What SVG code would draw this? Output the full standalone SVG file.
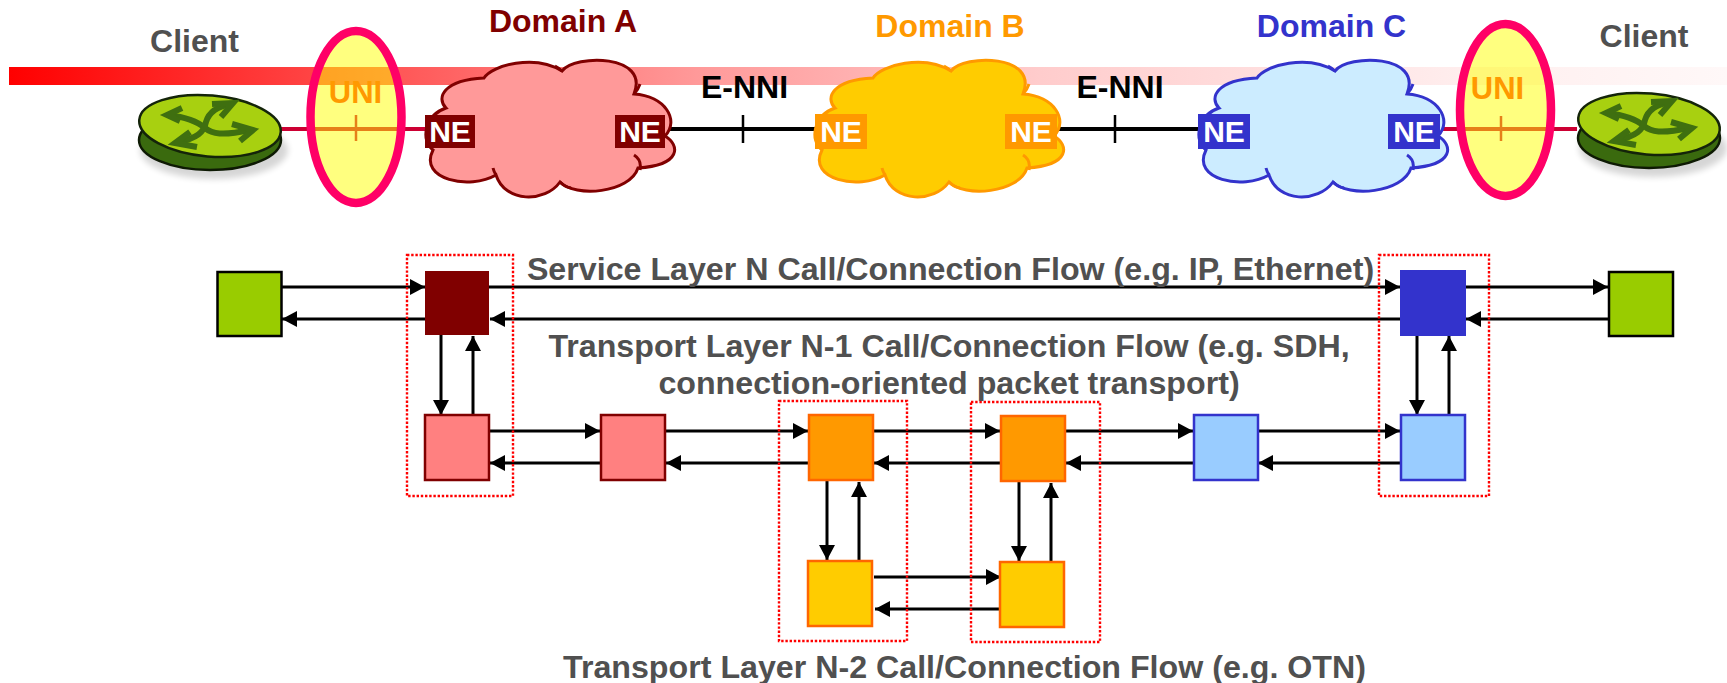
<svg xmlns="http://www.w3.org/2000/svg" xmlns:xlink="http://www.w3.org/1999/xlink" width="1727" height="683" viewBox="0 0 1727 683">
<style>
text{font-family:"Liberation Sans",Arial,sans-serif;font-weight:bold}
.t{font-size:32px;text-anchor:middle}
.f{font-size:32.2px;text-anchor:middle}
.g{fill:#505050}
.ne{font-size:30px;fill:#fff;text-anchor:middle}
.uni{fill:#FF9900;font-size:31px;text-anchor:middle}
.a{stroke:#000;stroke-width:3;fill:none;marker-end:url(#ah)}
.l{fill:none;stroke-width:4}
.tick{fill:none;stroke-width:2.5}
.dot{fill:none;stroke:#FF0000;stroke-width:2.4;stroke-dasharray:2.4 1.8}
.ell{fill:#FFFF00;fill-opacity:.5;stroke:#FF0066;stroke-width:8.5}
.ca{fill:#FF9999;stroke:#800000;stroke-width:3}
.cb{fill:#FFCC00;stroke:#FF9900;stroke-width:3}
.cc{fill:#CCECFF;stroke:#3333CC;stroke-width:3}
</style>
<defs>
<linearGradient id="bar"><stop offset="0" stop-color="#FF0000"/><stop offset=".25" stop-color="#FF6060"/><stop offset=".4" stop-color="#FF9999"/><stop offset=".6" stop-color="#FFCCCC"/><stop offset=".85" stop-color="#FFEEEE"/><stop offset="1" stop-color="#FFF8F8"/></linearGradient>
<filter id="blur" x="-20%" y="-20%" width="140%" height="140%"><feGaussianBlur stdDeviation="3"/></filter>
<marker id="ah" markerUnits="userSpaceOnUse" markerWidth="16" markerHeight="16" refX="15" refY="8" orient="auto"><path d="M0 0L15 8L0 16z" fill="#000"/></marker>
<g id="cloud">
<path d="M446 108C436 98 443 80 484 78C492 65 535 54 562 71C575 54 650 54 634 94C665 96 680 120 665 136C680 145 682 165 638 168C630 193 575 198 560 182C545 203 505 203 496 175C470 190 418 180 433 150C420 140 425 115 446 108z"/>
<path style="fill:none" d="M634 155Q642 160 640 170M562 71Q559 68 555 66M634 94Q638 90 640 84M560 182Q565 187 571 188M496 175Q494 172 493 168"/>
</g>
<g id="router">
<ellipse cx="214" cy="150" rx="74" ry="29" fill="#000" opacity=".16" filter="url(#blur)"/>
<ellipse cx="210" cy="140" rx="71" ry="30" fill="#3A6A0E" stroke="#0E1A04" stroke-width="2.5"/>
<ellipse cx="210" cy="126" rx="71" ry="30.500" transform="rotate(5 210 126)" fill="#A8D010" stroke="#14240A" stroke-width="2.5"/>
<g fill="none" stroke="#3F6F10" stroke-width="6">
<path d="M168 115C185 117 197 121 205 128C212 134 222 136 250 130"/>
<path d="M232 104C218 106 209 112 206 122C204 132 198 138 176 143"/>
<path d="M182 108L167 115L180 121"/>
<path d="M212 104L233 103L221 117"/>
<path d="M232 124L253 130L240 141"/>
<path d="M190 132L175 143L197 147"/>
</g>
</g>
</defs>

<rect id="gradient-bar" x="9" y="67" width="1718" height="18" fill="url(#bar)"/>

<g id="connectors">
<g id="top-links">
<path class="l" stroke="#CC0033" d="M281 129H425M1440 129H1577"/>
<path class="l" stroke="#000" d="M665 129H815M1057 129H1198"/>
<path class="tick" stroke="#CC0033" d="M356 115V141M1501 116V141"/>
<path class="tick" stroke="#000" d="M743 115V143M1115 115V143"/>
</g>
<g id="flows">
<path class="a" d="M282 287H425"/><path class="a" d="M425 319H282"/>
<path class="a" d="M489 287H1400"/><path class="a" d="M1400 319H490"/>
<path class="a" d="M1466 287H1608"/><path class="a" d="M1608 319H1466"/>
<path class="a" d="M441 335V415"/><path class="a" d="M473 415V336"/>
<path class="a" d="M1417 336V415"/><path class="a" d="M1449 415V336"/>
<path class="a" d="M490 431H600"/><path class="a" d="M600 463H490"/>
<path class="a" d="M666 431H808"/><path class="a" d="M808 463H666"/>
<path class="a" d="M874 431H1000"/><path class="a" d="M1000 463H874"/>
<path class="a" d="M1066 431H1193"/><path class="a" d="M1193 463H1066"/>
<path class="a" d="M1258 431H1400"/><path class="a" d="M1400 463H1258"/>
<path class="a" d="M827 481V560"/><path class="a" d="M859 560V482"/>
<path class="a" d="M1019 481V561"/><path class="a" d="M1051 561V483"/>
<path class="a" d="M874 577H1001"/><path class="a" d="M999 609H875"/>
</g>
</g>

<g id="client-left"><use xlink:href="#router" href="#router"/><text class="t g" x="194.500" y="52">Client</text></g>
<g id="client-right"><use xlink:href="#router" href="#router" transform="translate(1439 -2)"/><text class="t g" x="1644" y="47">Client</text></g>

<g id="uni-left"><ellipse class="ell" cx="356" cy="117" rx="45.500" ry="86"/><text class="uni" x="355.500" y="103">UNI</text></g>
<g id="uni-right"><ellipse class="ell" cx="1505.500" cy="110" rx="45.500" ry="86"/><text class="uni" x="1497.500" y="99">UNI</text></g>

<g id="domain-a">
<use class="ca" xlink:href="#cloud" href="#cloud"/>
<text class="t" fill="#800000" x="563" y="32">Domain A</text>
<rect x="425" y="115" width="50" height="33" fill="#800000"/><text class="ne" x="450" y="142">NE</text>
<rect x="615" y="115" width="50" height="33" fill="#800000"/><text class="ne" x="640" y="142">NE</text>
</g>
<g id="domain-b">
<use class="cb" xlink:href="#cloud" href="#cloud" transform="translate(389 0)"/>
<text class="t" fill="#FF9900" x="950" y="37">Domain B</text>
<rect x="815" y="114" width="52" height="35" fill="#FF9900"/><text class="ne" x="841" y="142">NE</text>
<rect x="1005" y="114" width="52" height="35" fill="#FF9900"/><text class="ne" x="1031" y="142">NE</text>
</g>
<g id="domain-c">
<use class="cc" xlink:href="#cloud" href="#cloud" transform="translate(773 0)"/>
<text class="t" fill="#3333CC" x="1331.500" y="37">Domain C</text>
<rect x="1198" y="114" width="52" height="35" fill="#3333CC"/><text class="ne" x="1224" y="142">NE</text>
<rect x="1388" y="114" width="52" height="35" fill="#3333CC"/><text class="ne" x="1414" y="142">NE</text>
</g>
<text class="t" fill="#000" x="744.500" y="98">E-NNI</text>
<text class="t" fill="#000" x="1120" y="98">E-NNI</text>

<g id="n-green-left"><rect x="217.500" y="272" width="64" height="64" fill="#99CC00" stroke="#000" stroke-width="2.500"/></g>
<g id="n-a-service"><rect x="425" y="271" width="64" height="64" fill="#800000"/></g>
<g id="n-c-service"><rect x="1400" y="270" width="66" height="66" fill="#3333CC"/></g>
<g id="n-green-right"><rect x="1609" y="272" width="64" height="64" fill="#99CC00" stroke="#000" stroke-width="2.500"/></g>
<g id="n-a1"><rect x="425" y="415" width="64" height="65" fill="#FF8080" stroke="#800000" stroke-width="2.500"/></g>
<g id="n-a2"><rect x="601" y="415" width="64" height="65" fill="#FF8080" stroke="#800000" stroke-width="2.500"/></g>
<g id="n-b1"><rect x="809" y="415" width="64" height="65" fill="#FF9900" stroke="#FF6600" stroke-width="2.500"/></g>
<g id="n-b2"><rect x="1001" y="416" width="64" height="65" fill="#FF9900" stroke="#FF6600" stroke-width="2.500"/></g>
<g id="n-c1"><rect x="1194" y="415" width="64" height="65" fill="#99CCFF" stroke="#3333CC" stroke-width="2.500"/></g>
<g id="n-c2"><rect x="1401" y="415" width="64" height="65" fill="#99CCFF" stroke="#3333CC" stroke-width="2.500"/></g>
<g id="n-b3"><rect x="808" y="561" width="64" height="65" fill="#FFCC00" stroke="#FF6600" stroke-width="2.500"/></g>
<g id="n-b4"><rect x="1000" y="562" width="64" height="65" fill="#FFCC00" stroke="#FF6600" stroke-width="2.500"/></g>

<g id="dotted-groups">
<rect class="dot" x="407" y="255" width="106" height="241"/>
<rect class="dot" x="1379" y="255" width="110" height="241"/>
<rect class="dot" x="779" y="401" width="128" height="240"/>
<rect class="dot" x="971" y="402" width="129" height="240"/>
</g>

<g id="layer-labels">
<text class="f g" x="950.500" y="280">Service Layer N Call/Connection Flow (e.g. IP, Ethernet)</text>
<text class="f g" x="949" y="357">Transport Layer N-1 Call/Connection Flow (e.g. SDH,</text>
<text class="f g" x="949" y="394">connection-oriented packet transport)</text>
<text class="f g" x="964.500" y="678">Transport Layer N-2 Call/Connection Flow (e.g. OTN)</text>
</g>
</svg>
